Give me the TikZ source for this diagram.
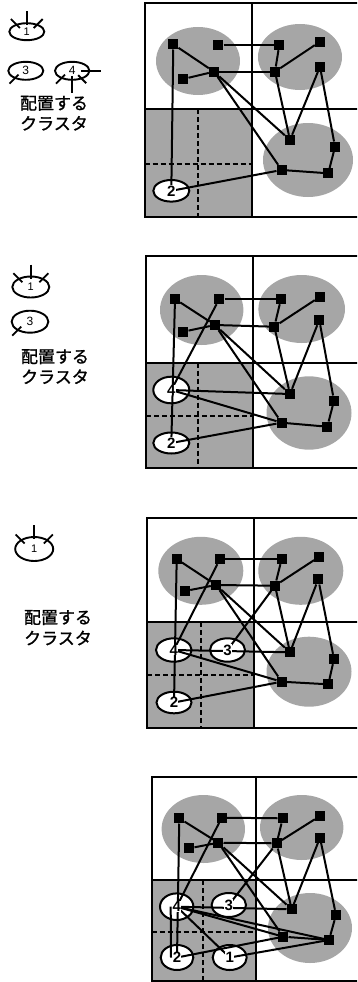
\documentclass[tikz,border=0pt]{standalone}
\usepackage{fontspec}
\setmainfont{Liberation Sans}
\newfontfamily\jpfont[FakeBold=1.2]{Noto Sans CJK JP}
\usetikzlibrary{shapes.geometric,calc}
\newcommand\gridpanel[7]{% left top midx midy bottom dashx dashy
  \fill[blob] (#1,#4) rectangle (#3,#5);
  \draw[dashline] (#6,#4) -- (#6,#5);
  \draw[dashline] (#1,#7) -- (#3,#7);
  \draw[frame] (#1,#2) rectangle (365,#5);
  \draw[frame] (#3,#2) -- (#3,#5);
  \draw[frame] (#1,#4) -- (365,#4);
}
\newcommand\commonedges[1]{%
  \draw[edge] (#1A) -- (#1D);
  \draw[edge] (#1C) -- (#1D);
  \draw[edge] (#1B) -- (#1E);
  \draw[edge] (#1D) -- (#1G);
  \draw[edge] (#1G) -- (#1E);
  \draw[edge] (#1G) -- (#1F);
  \draw[edge] (#1G) -- (#1I);
  \draw[edge] (#1H) -- (#1I);
  \draw[edge] (#1H) -- (#1J);
  \draw[edge] (#1J) -- (#1L);
  \draw[edge] (#1K) -- (#1L);
  \draw[edge] (#1D) -- (#1I);
  \draw[edge] (#1D) -- (#1K);
  \draw[edge] (#1A) -- (#1c2.center);
  \draw[edge] (#1c2.center) -- (#1K);
}
\begin{document}
\begin{tikzpicture}[x=1pt,y=-1pt,
  sq/.style={rectangle,fill=black,minimum size=10pt,inner sep=0pt},
  edge/.style={line width=2pt},
  cl/.style={ellipse,draw,line width=2pt,fill=white,inner sep=0pt},
  dig/.style={font=\bfseries\fontsize{15}{15}\selectfont,inner sep=0.3pt,fill=white},
  blob/.style={fill=black!35},
  frame/.style={line width=2.2pt},
  dashline/.style={line width=1.7pt,dash pattern=on 5pt off 3pt},
  lg/.style={ellipse,draw,line width=1.9pt,inner sep=0pt,font=\fontsize{11}{11}\selectfont},
  tk/.style={line width=1.8pt},
  jp/.style={font=\jpfont\fontsize{17}{17}\selectfont,inner sep=0pt}
]
\useasboundingbox (0,0) rectangle (357,982);
\clip (0,0) rectangle (357,982);

%================ Panel 1 ================
\fill[blob] (198,61) ellipse [x radius=42, y radius=34];
\fill[blob] (300,57) ellipse [x radius=42, y radius=33];
\fill[blob] (308,160) ellipse [x radius=45, y radius=37];
\gridpanel{144.7}{3.3}{251.7}{109}{216.7}{198.3}{164.3}
\node[sq] (aA) at (173.3,44.3) {};
\node[sq] (aB) at (218.3,45) {};
\node[sq] (aC) at (183.3,79) {};
\node[sq] (aD) at (214,71.7) {};
\node[sq] (aE) at (279.3,45) {};
\node[sq] (aF) at (320,41.7) {};
\node[sq] (aG) at (275,71.7) {};
\node[sq] (aH) at (320,66.7) {};
\node[sq] (aI) at (290,140) {};
\node[sq] (aJ) at (335,146.7) {};
\node[sq] (aK) at (281.7,170) {};
\node[sq] (aL) at (328.3,173.3) {};
\node[cl,minimum width=36pt,minimum height=21.6pt] (ac2) at (171.3,190.8) {};
\commonedges{a}
\node[dig] at (ac2.center) {2};
% legend
\node[lg,minimum width=35pt,minimum height=17pt] (al1) at (26.8,31.7) {1};
\draw[tk] ($(al1.north)+(0,-11)$) -- ($(al1.north)+(0,3)$);
\draw[tk] ($(al1.145)+(-5,-5)$) -- ($(al1.145)+(4,4)$);
\draw[tk] ($(al1.35)+(5,-5)$) -- ($(al1.35)+(-4,4)$);
\node[lg,minimum width=35pt,minimum height=18pt,font=\fontsize{12}{12}\selectfont] (al3) at (25.8,70.8) {3};
\draw[tk] ($(al3.215)+(-5,5)$) -- ($(al3.215)+(4,-4)$);
\node[lg,minimum width=34.4pt,minimum height=18pt,font=\fontsize{12}{12}\selectfont] (al4) at (72.2,70.8) {4};
\draw[tk] ($(al4.215)+(-5,5)$) -- ($(al4.215)+(4,-4)$);
\draw[tk] ($(al4.east)+(-9,0)$) -- ($(al4.east)+(11,0)$);
\draw[tk] ($(al4.south)+(0,-5)$) -- ($(al4.south)+(0,12)$);
\draw[tk] ($(al4.-40)+(-4,-4)$) -- ($(al4.-40)+(4,4)$);
\node[jp] (at1) at (54,103.3) {配置する};
\node[jp] (at2) at (54,123.3) {クラスタ};

%================ Panel 2 ================
\fill[blob] (201.7,310) ellipse [x radius=41.7, y radius=35];
\fill[blob] (301.7,309) ellipse [x radius=43.3, y radius=34];
\fill[blob] (309,413) ellipse [x radius=42.5, y radius=36.7];
\gridpanel{146}{256}{252.7}{362.7}{468.3}{198.3}{415.7}
\node[sq] (bA) at (175,299) {};
\node[sq] (bB) at (219.3,299) {};
\node[sq] (bC) at (183.3,331.7) {};
\node[sq] (bD) at (215,325) {};
\node[sq] (bE) at (281,299) {};
\node[sq] (bF) at (320,296.7) {};
\node[sq] (bG) at (274.3,326.7) {};
\node[sq] (bH) at (319.3,320) {};
\node[sq] (bI) at (290,394) {};
\node[sq] (bJ) at (334,400.7) {};
\node[sq] (bK) at (281.7,422.7) {};
\node[sq] (bL) at (327.3,426.7) {};
\node[cl,minimum width=36pt,minimum height=26.6pt] (bc4) at (171.3,390) {};
\node[cl,minimum width=36pt,minimum height=21pt] (bc2) at (171.3,443) {};
\commonedges{b}
\draw[edge] (bc4.center) -- (bB);
\draw[edge] (bc4.center) -- (bI);
\draw[edge] (bc4.center) -- (bK);
\node[dig] at (bc4.center) {4};
\node[dig] at (bc2.center) {2};
% legend
\node[lg,minimum width=37pt,minimum height=21pt] (bl1) at (30.8,287) {1};
\draw[tk] ($(bl1.north)+(0,-11)$) -- ($(bl1.north)+(0,3)$);
\draw[tk] ($(bl1.145)+(-5,-5)$) -- ($(bl1.145)+(4,4)$);
\draw[tk] ($(bl1.35)+(5,-5)$) -- ($(bl1.35)+(-4,4)$);
\node[lg,minimum width=36.7pt,minimum height=22pt,font=\fontsize{12}{12}\selectfont] (bl3) at (30,321.7) {3};
\draw[tk] ($(bl3.215)+(-5,5)$) -- ($(bl3.215)+(4,-4)$);
\node[jp] (bt1) at (55,356.7) {配置する};
\node[jp] (bt2) at (55,376.7) {クラスタ};

%================ Panel 3 ================
\fill[blob] (200.8,570.8) ellipse [x radius=42.5, y radius=34];
\fill[blob] (300.8,570.8) ellipse [x radius=42.5, y radius=34];
\fill[blob] (309,671.7) ellipse [x radius=42.5, y radius=35];
\gridpanel{147.3}{518.3}{254.3}{622.3}{728.3}{201}{675}
\node[sq] (cA) at (176.7,559) {};
\node[sq] (cB) at (220,559) {};
\node[sq] (cC) at (185,591) {};
\node[sq] (cD) at (216,585) {};
\node[sq] (cE) at (281.7,559) {};
\node[sq] (cF) at (319.3,556.7) {};
\node[sq] (cG) at (275,585.7) {};
\node[sq] (cH) at (318.3,579.3) {};
\node[sq] (cI) at (290,652.3) {};
\node[sq] (cJ) at (334,659) {};
\node[sq] (cK) at (281.7,681.7) {};
\node[sq] (cL) at (328.3,684.3) {};
\node[cl,minimum width=35.6pt,minimum height=23.4pt] (cc4) at (173.8,650) {};
\node[cl,minimum width=35pt,minimum height=23.4pt] (cc3) at (227.5,650) {};
\node[cl,minimum width=35pt,minimum height=21.6pt] (cc2) at (174,702.5) {};
\commonedges{c}
\draw[edge] (cc4.center) -- (cB);
\draw[edge] (cc4.center) -- (cI);
\draw[edge] (cc4.center) -- (cK);
\draw[edge] (cc3.center) -- (cG);
\node[dig] at (cc4.center) {4};
\node[dig] at (cc3.center) {3};
\node[dig] at (cc2.center) {2};
% legend
\node[lg,minimum width=38pt,minimum height=24pt] (cl1) at (34.2,549) {1};
\draw[tk] ($(cl1.north)+(0,-11)$) -- ($(cl1.north)+(0,3)$);
\draw[tk] ($(cl1.145)+(-5,-5)$) -- ($(cl1.145)+(4,4)$);
\draw[tk] ($(cl1.35)+(5,-5)$) -- ($(cl1.35)+(-4,4)$);
\node[jp] (ct1) at (58,617.5) {配置する};
\node[jp] (ct2) at (58,638) {クラスタ};

%================ Panel 4 ================
\fill[blob] (203.3,829) ellipse [x radius=41.7, y radius=34];
\fill[blob] (301.7,827.5) ellipse [x radius=41.7, y radius=32.5];
\fill[blob] (310,928) ellipse [x radius=42, y radius=35];
\gridpanel{151.7}{776.7}{255.7}{880}{981.5}{203.3}{931.7}
\node[sq] (dA) at (179.3,818.3) {};
\node[sq] (dB) at (221.7,817.7) {};
\node[sq] (dC) at (189.3,848.3) {};
\node[sq] (dD) at (218.3,842.7) {};
\node[sq] (dE) at (282.7,818.3) {};
\node[sq] (dF) at (320,816) {};
\node[sq] (dG) at (276.7,843.3) {};
\node[sq] (dH) at (320,837.7) {};
\node[sq] (dI) at (291.7,909.3) {};
\node[sq] (dJ) at (336,915) {};
\node[sq] (dK) at (283.3,936.7) {};
\node[sq] (dL) at (329,940) {};
\node[cl,minimum width=33.4pt,minimum height=26.6pt] (dc4) at (176.7,906.7) {};
\node[cl,minimum width=34.4pt,minimum height=24pt] (dc3) at (228.8,905) {};
\node[cl,minimum width=32.6pt,minimum height=25pt] (dc2) at (177,957.5) {};
\node[cl,minimum width=34pt,minimum height=25pt] (dc1) at (229.7,957.5) {};
\commonedges{d}
\draw[edge] (dc4.center) -- (dB);
\draw[edge] (dc4.center) -- (dI);
\draw[edge] (dc4.center) -- (dK);
\draw[edge] (dc4.center) -- (dL);
\draw[edge] (dc4.center) -- (dc1.center);
\draw[edge] ($(dc4.center)+(-6,0)$) -- ($(dc2.center)+(-6,0)$);
\draw[edge] (dc3.center) -- (dG);
\draw[edge] (dc1.center) -- (dL);
\node[dig] at (dc4.center) {4};
\node[dig] at (dc3.center) {3};
\node[dig] at (dc2.center) {2};
\node[dig] at (dc1.center) {1};
\end{tikzpicture}
\end{document}
